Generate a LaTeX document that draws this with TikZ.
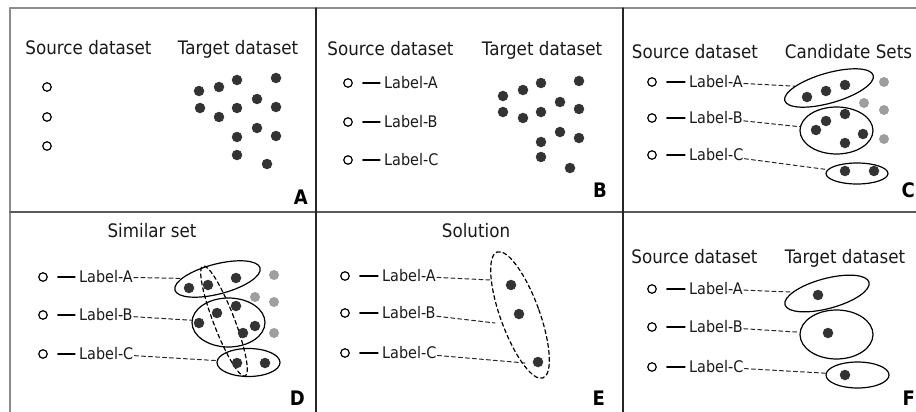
\documentclass[tikz,border=0pt]{standalone}
\usepackage{fontspec}
\setmainfont{DejaVu Sans}[FakeStretch=0.9]
\usetikzlibrary{shapes.geometric}
\begin{document}
\begin{tikzpicture}[x=1pt,y=-1pt,line cap=round,line join=round,
  src/.style={circle,draw,line width=1.2pt,minimum size=8.5pt,inner sep=0pt},
  pt/.style={circle,fill=black!80,minimum size=10.5pt,inner sep=0pt},
  gpt/.style={circle,fill=black!38,minimum size=10pt,inner sep=0pt},
  lab/.style={anchor=west,inner sep=1pt,font=\fontsize{16}{18}\selectfont,text=black!90},
  ttl/.style={anchor=base,inner sep=0pt,font=\fontsize{18.6}{20}\selectfont,text=black!90},
  tag/.style={anchor=base east,inner sep=0pt,font=\fontsize{20}{22}\selectfont\bfseries},
  stub/.style={line width=1.3pt,shorten <=10pt,shorten >=3pt},
  set/.style={ellipse,draw,line width=1.2pt,inner sep=0pt},
  link/.style={line width=1pt,dash pattern=on 4pt off 3pt,black!85}]
  \useasboundingbox (0,0) rectangle (916,412);
  % frame
  \draw[line width=2.5pt,black!45] (10,412) -- (10,8) -- (916,8);
  \draw[line width=1.5pt,black!65] (10,212) -- (916,212);
  \draw[line width=1.3pt,black!85] (316,8) -- (316,412);
  \draw[line width=1.3pt,black!85] (623,8) -- (623,412);

  % A
  \node[ttl] (srcA) at (88.5,55) {Source dataset};
  \node[ttl] (tgtA) at (238,55) {Target dataset};
  \foreach \y [count=\i] in {87,117,146}
    \node[src] (a\i) at (47,\y) {};
  \foreach \x/\y [count=\i] in {199/91,219/87,237/80,276/78,257/99,200/108,219/117,
      237/108,276/107,257/128,237/137,276/136,237/155,267/164}
    \node[pt] (ad\i) at (\x,\y) {};
  \node[tag] (tagA) at (308,204) {A};

  % B
  \node[ttl] (srcB) at (390.5,56) {Source dataset};
  \node[ttl] (tgtB) at (542,56) {Target dataset};
  \foreach \y/\l [count=\i] in {83/A,122/B,160/C} {
    \node[src] (b\i) at (348,\y) {};
    \node[lab] (bl\i) at (383,\y) {Label-\l};
    \draw[stub] (b\i) -- (bl\i);
  }
  \foreach \x/\y [count=\i] in {503/96,523/90,541/83,579/81,560/102,503/112,523/118,
      541/112,579/109,560/132,541/142,579/138,541/157,570/168}
    \node[pt] (bd\i) at (\x,\y) {};
  \node[tag] (tagB) at (607,197) {B};

  % C
  \node[ttl] (srcC) at (695,59) {Source dataset};
  \node[ttl] (candC) at (848.5,59) {Candidate Sets};
  \foreach \y/\l [count=\i] in {82/A,118/B,155/C} {
    \node[src] (c\i) at (652,\y) {};
    \node[lab] (cl\i) at (688,\y) {Label-\l};
    \draw[stub] (c\i) -- (cl\i);
  }
  \node[set,minimum width=92pt,minimum height=30pt,rotate=16] (cA) at (829,88) {};
  \node[set,minimum width=73pt,minimum height=47pt] (cB) at (836.5,130.5) {};
  \node[set,minimum width=62pt,minimum height=21pt] (cC) at (857,173.5) {};
  \foreach \x/\y [count=\i] in {807/97,826/91,845/85,816/130,826/121,845/114,863/134,
      845/143,845/171,874/171}
    \node[pt] (cd\i) at (\x,\y) {};
  \foreach \x/\y [count=\i] in {884/82,864/103,884/110,884/139}
    \node[gpt] (cg\i) at (\x,\y) {};
  \draw[link] (cl1) -- (cA);
  \draw[link] (cl2) -- (cB);
  \draw[link] (cl3) -- (cC);
  \node[tag] (tagC) at (915,197) {C};

  % D
  \node[ttl] (simD) at (152,237) {Similar set};
  \foreach \y/\l [count=\i] in {277/A,315/B,354/C} {
    \node[src] (d\i) at (43,\y) {};
    \node[lab] (dl\i) at (78,\y) {Label-\l};
    \draw[stub] (d\i) -- (dl\i);
  }
  \node[set,minimum width=88pt,minimum height=30pt,rotate=14.5] (dA) at (217.5,279) {};
  \node[set,minimum width=73pt,minimum height=49pt] (dB) at (228.5,322.5) {};
  \node[set,minimum width=63pt,minimum height=28pt] (dC) at (248.5,362.5) {};
  \node[set,minimum width=21pt,minimum height=118pt,rotate=21,
    dash pattern=on 4pt off 3pt] (dSim) at (224,321) {};
  \foreach \x/\y [count=\i] in {189/288,208/285,236/278,199/323,217/313,236/306,
      255/326,243/333,237/363,265/363}
    \node[pt] (dd\i) at (\x,\y) {};
  \foreach \x/\y [count=\i] in {274/275,255/297,274/302,274/333}
    \node[gpt] (dg\i) at (\x,\y) {};
  \draw[link] (dl1) -- (dA);
  \draw[link] (dl2) -- (dB);
  \draw[link] (dl3) -- (dC);
  \node[tag] (tagD) at (305,405) {D};

  % E
  \node[ttl] (solE) at (476,237) {Solution};
  \foreach \y/\l [count=\i] in {276/A,313/B,353/C} {
    \node[src] (e\i) at (345,\y) {};
    \node[lab] (el\i) at (381,\y) {Label-\l};
    \draw[stub] (e\i) -- (el\i);
  }
  \node[set,minimum width=39pt,minimum height=134pt,rotate=20,
    dash pattern=on 4pt off 3pt] (eSol) at (520,315) {};
  \foreach \x/\y [count=\i] in {511/285,519/314,538/362}
    \node[pt] (ed\i) at (\x,\y) {};
  \coordinate (eA) at (490,280);
  \coordinate (eB) at (495,323);
  \coordinate (eC) at (525,363);
  \draw[link] (el1) -- (eA);
  \draw[link] (el2) -- (eB);
  \draw[link] (el3) -- (eC);
  \node[tag] (tagE) at (605,405) {E};

  % F
  \node[ttl] (srcF) at (694.5,263) {Source dataset};
  \node[ttl] (tgtF) at (845,263) {Target dataset};
  \foreach \y/\l [count=\i] in {289/A,327/B,367/C} {
    \node[src] (f\i) at (652,\y) {};
    \node[lab] (fl\i) at (688,\y) {Label-\l};
    \draw[stub] (f\i) -- (fl\i);
  }
  \node[set,minimum width=87pt,minimum height=30pt,rotate=15] (fA) at (827,293.5) {};
  \node[set,minimum width=73pt,minimum height=49pt] (fB) at (836.5,334.5) {};
  \node[set,minimum width=63pt,minimum height=26pt] (fC) at (857.5,375) {};
  \foreach \x/\y [count=\i] in {818/295,828/333,845/375}
    \node[pt] (fd\i) at (\x,\y) {};
  \draw[link] (fl1) -- (fA);
  \draw[link] (fl2) -- (fB);
  \draw[link] (fl3) -- (fC);
  \node[tag] (tagF) at (915,405) {F};
\end{tikzpicture}
\end{document}
